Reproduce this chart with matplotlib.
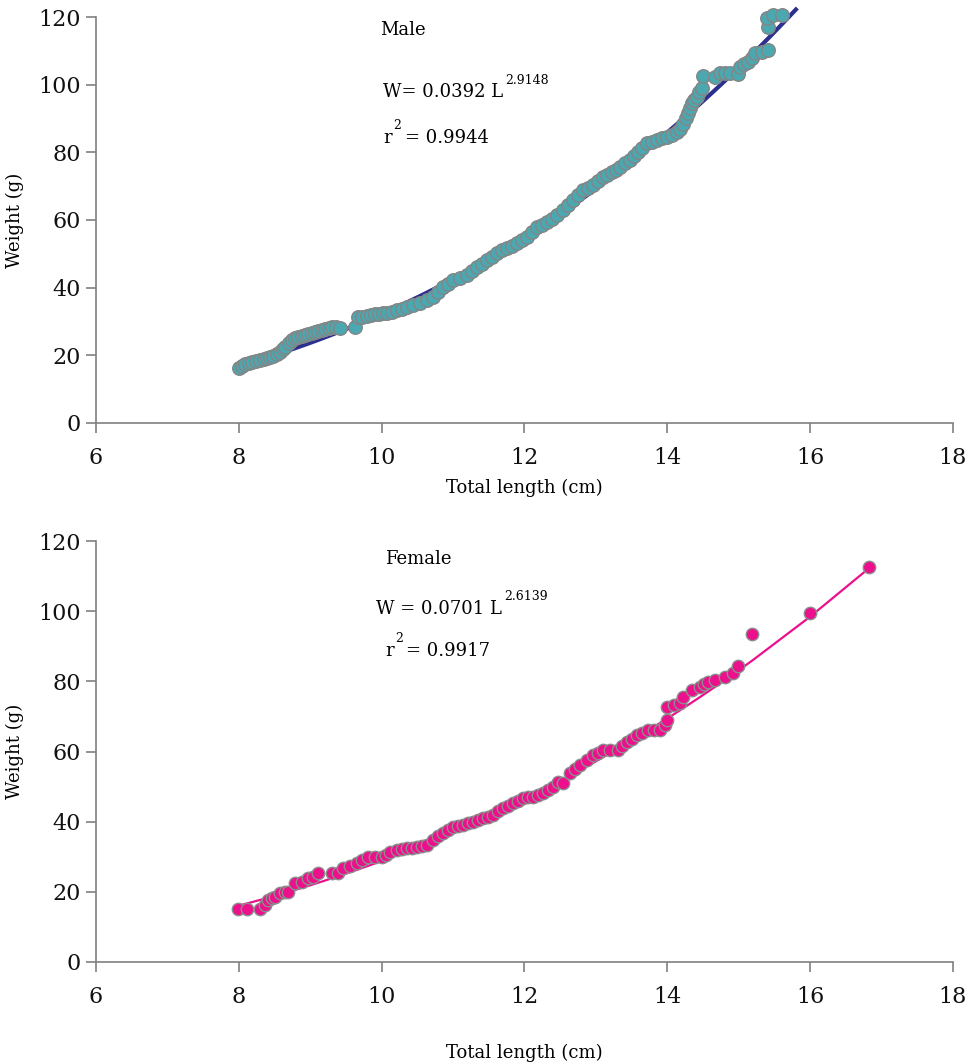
import numpy as np
import matplotlib
matplotlib.use("Agg")
import matplotlib.pyplot as plt

# ---------------- data ----------------
male_length = [
    8.00, 8.05, 8.09, 8.14, 8.18, 8.24, 8.30, 8.35, 8.39, 8.44,
    8.48, 8.53, 8.58, 8.62, 8.65, 8.70, 8.74, 8.79, 8.83, 8.88,
    8.93, 8.97, 9.02, 9.06, 9.11, 9.16, 9.21, 9.26, 9.30, 9.36,
    9.42, 9.63, 9.67, 9.73, 9.79, 9.85, 9.91, 9.96, 10.02, 10.08,
    10.14, 10.21, 10.28, 10.35, 10.44, 10.54, 10.63, 10.72, 10.79, 10.86,
    10.93, 11.00, 11.10, 11.20, 11.27, 11.33, 11.40, 11.47, 11.54, 11.61,
    11.68, 11.75, 11.82, 11.89, 11.96, 12.03, 12.10, 12.17, 12.24, 12.31,
    12.38, 12.45, 12.54, 12.61, 12.68, 12.75, 12.82, 12.89, 12.96, 13.03,
    13.10, 13.16, 13.22, 13.28, 13.34, 13.41, 13.48, 13.54, 13.59, 13.65,
    13.71, 13.78, 13.85, 13.92, 13.99, 14.06, 14.13, 14.18, 14.22, 14.26,
    14.29, 14.32, 14.34, 14.38, 14.41, 14.45, 14.48, 14.50, 14.67, 14.74,
    14.81, 14.88, 14.99, 15.02, 15.08, 15.13, 15.18, 15.23, 15.32, 15.41,
    15.41, 15.40, 15.48, 15.60,
]
male_weight = [
    16.3, 16.9, 17.4, 17.7, 18.0, 18.3, 18.6, 18.9, 19.2, 19.5,
    19.8, 20.3, 21.0, 21.8, 22.5, 23.5, 24.5, 25.0, 25.4, 25.7,
    26.0, 26.3, 26.6, 26.9, 27.2, 27.5, 27.8, 28.1, 28.4, 28.3,
    28.1, 28.4, 31.3, 31.4, 31.6, 31.9, 32.2, 32.3, 32.5, 32.6,
    32.8, 33.4, 33.8, 34.3, 34.8, 35.5, 36.3, 37.2, 38.7, 40.2,
    41.2, 42.3, 43.0, 43.7, 44.9, 46.1, 47.1, 48.2, 49.2, 50.2,
    51.0, 51.7, 52.4, 53.2, 54.1, 55.0, 56.5, 57.9, 58.6, 59.4,
    60.4, 61.5, 63.0, 64.4, 65.9, 67.4, 68.9, 69.6, 70.4, 71.5,
    72.7, 73.4, 74.2, 74.9, 75.7, 76.7, 77.7, 78.9, 80.1, 81.4,
    82.8, 83.2, 83.7, 84.1, 84.5, 85.2, 86.0, 87.0, 88.4, 90.0,
    91.6, 93.0, 94.6, 95.5, 96.4, 97.7, 99.0, 102.6, 102.3, 103.5,
    103.5, 103.5, 103.2, 105.2, 106.0, 106.7, 108.0, 109.4, 109.7, 110.3,
    117.1, 119.7, 120.6, 120.6,
]

female_length = [
    7.99, 8.11, 8.30, 8.37, 8.41, 8.46, 8.51, 8.58, 8.64, 8.69,
    8.79, 8.88, 8.97, 9.04, 9.11, 9.30, 9.39, 9.46, 9.56, 9.65,
    9.72, 9.81, 9.91, 10.00, 10.06, 10.12, 10.21, 10.28, 10.35, 10.42,
    10.49, 10.56, 10.63, 10.72, 10.79, 10.86, 10.93, 11.00, 11.07, 11.14,
    11.21, 11.28, 11.35, 11.42, 11.49, 11.56, 11.63, 11.70, 11.77, 11.84,
    11.91, 11.98, 12.05, 12.12, 12.19, 12.26, 12.33, 12.40, 12.47, 12.54,
    12.64, 12.71, 12.78, 12.87, 12.96, 13.03, 13.10, 13.20, 13.31, 13.37,
    13.43, 13.50, 13.57, 13.65, 13.73, 13.81, 13.90, 13.97, 13.99, 13.99,
    14.10, 14.18, 14.22, 14.35, 14.46, 14.52, 14.57, 14.67, 14.81, 14.92,
    14.99, 15.19, 16.00, 16.82,
]
female_weight = [
    15.1, 15.1, 15.1, 16.2, 17.7, 18.1, 18.5, 19.7, 19.9, 20.0,
    22.5, 22.8, 23.9, 24.2, 25.4, 25.4, 25.4, 26.8, 27.4, 28.2,
    29.1, 29.9, 29.9, 29.9, 30.6, 31.4, 31.9, 32.2, 32.5, 32.6,
    32.8, 33.1, 33.4, 34.8, 35.8, 36.8, 37.6, 38.5, 38.8, 39.1,
    39.5, 39.9, 40.4, 41.0, 41.4, 41.9, 42.9, 43.9, 44.6, 45.3,
    46.0, 46.8, 46.9, 47.0, 47.6, 48.2, 49.0, 49.9, 51.3, 51.0,
    53.9, 55.0, 56.2, 57.6, 59.0, 59.7, 60.4, 60.4, 60.4, 61.5,
    62.7, 63.7, 64.7, 65.4, 66.1, 66.1, 66.1, 67.5, 69.0, 72.7,
    73.2, 73.8, 75.5, 77.5, 78.4, 79.2, 79.8, 80.4, 81.2, 82.4,
    84.4, 93.5, 99.5, 112.6,
]

# fitted power curves shown on the chart: W = a * L^b
male_a, male_b, male_r2 = 0.0392, 2.9148, 0.9944
female_a, female_b, female_r2 = 0.0701, 2.6139, 0.9917
male_fit_end = 15.8  # trendline forecast end

x_ticks = [6, 8, 10, 12, 14, 16, 18]
y_ticks = [0, 20, 40, 60, 80, 100, 120]

# ---------------- style ----------------
FONT = "DejaVu Serif"
plt.rcParams["font.family"] = FONT
AX_GRAY = "#808080"

W, H = 967, 1064
fig = plt.figure(figsize=(W / 100, H / 100), dpi=100)


def make_ax(top_px, bottom_px, xlabelpad):
    left_px, right_px = 96, 953
    ax = fig.add_axes([left_px / W, 1 - bottom_px / H,
                       (right_px - left_px) / W, (bottom_px - top_px) / H])
    ax.set_xlim(x_ticks[0], x_ticks[-1])
    ax.set_ylim(y_ticks[0], y_ticks[-1])
    ax.set_xticks(x_ticks)
    ax.set_yticks(y_ticks)
    for s in ("top", "right"):
        ax.spines[s].set_visible(False)
    for s in ("left", "bottom"):
        ax.spines[s].set_color(AX_GRAY)
        ax.spines[s].set_linewidth(1.2)
    ax.tick_params(axis="both", direction="out", length=7, width=1.2,
                   color=AX_GRAY, labelsize=16, labelcolor="#111111")
    ax.tick_params(axis="x", pad=10)
    ax.tick_params(axis="y", pad=4)
    ax.set_xlabel("Total length (cm)", fontsize=13, labelpad=xlabelpad)
    ax.set_ylabel("Weight (g)", fontsize=13, labelpad=10)
    return ax


def annotate(ax, x, y, base, sup, tail=""):
    t = ax.text(x, y, base, transform=ax.transAxes, fontsize=13,
                va="baseline", ha="left")
    fig.canvas.draw()
    bb = t.get_window_extent()
    inv = ax.transAxes.inverted()
    x_end = inv.transform((bb.x1, bb.y0))[0]
    s = ax.text(x_end + 0.002, y + 0.033, sup, transform=ax.transAxes,
                fontsize=9, va="baseline", ha="left")
    if tail:
        fig.canvas.draw()
        bb2 = s.get_window_extent()
        x2 = inv.transform((bb2.x1, bb2.y0))[0]
        ax.text(x2 + 0.004, y, tail, transform=ax.transAxes, fontsize=13,
                va="baseline", ha="left")


# ---------------- male ----------------
ax1 = make_ax(17, 423, 7)
ml = np.array(male_length)
fit_x1 = np.sort(np.append(ml, male_fit_end))
ax1.plot(fit_x1, male_a * fit_x1 ** male_b, color="#2B2F8E", lw=3.0,
         zorder=2, clip_on=False)
ax1.scatter(male_length, male_weight, s=95, c="#4BA7B0", edgecolors="#858585",
            linewidths=1.0, zorder=3, clip_on=False)
ax1.text(0.331, 0.968, "Male", transform=ax1.transAxes, fontsize=13,
         va="center", ha="left")
annotate(ax1, 0.335, 0.803, f"W= {male_a:.4f} L", f"{male_b:.4f}")
annotate(ax1, 0.335, 0.69, "r", "2", f"= {male_r2:.4f}")

# ---------------- female ----------------
ax2 = make_ax(541, 962, 26)
fl = np.array(female_length)
fit_x2 = np.sort(fl)
ax2.plot(fit_x2, female_a * fit_x2 ** female_b, color="#EC108C", lw=1.6,
         zorder=2)
ax2.scatter(female_length, female_weight, s=80, c="#EC108C", edgecolors="#8C8C8C",
            linewidths=1.0, zorder=3, clip_on=False)
ax2.text(0.337, 0.957, "Female", transform=ax2.transAxes, fontsize=13,
         va="center", ha="left")
annotate(ax2, 0.327, 0.827, f"W = {female_a:.4f} L", f"{female_b:.4f}")
annotate(ax2, 0.337, 0.727, "r", "2", f"= {female_r2:.4f}")

fig.savefig("out.png", dpi=100)
